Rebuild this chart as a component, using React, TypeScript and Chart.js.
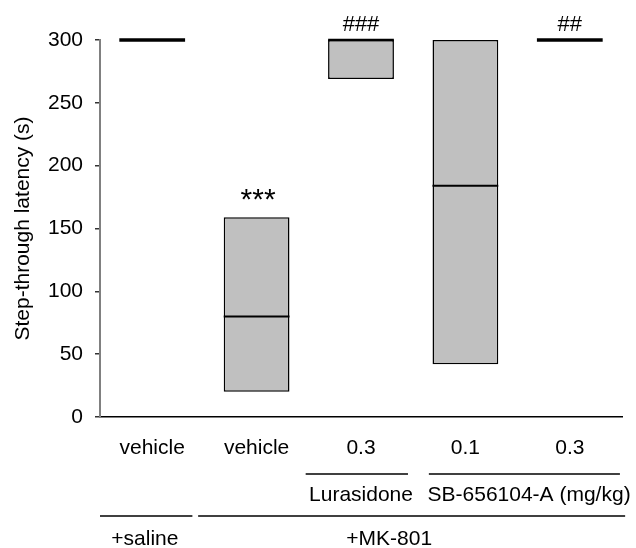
import React, { useEffect, useRef } from "react";
import { Chart, registerables } from "chart.js";

Chart.register(...registerables);

// ---- data ----
const categories = ["vehicle", "vehicle", "0.3", "0.1", "0.3"];
const boxLow = [300, 20, 269, 42, 300];
const boxHigh = [300, 159, 300, 300, 300];
const medians = [300, 80, 300, 184, 300];
const significance = ["", "***", "###", "", "##"];
const yTicks = [0, 50, 100, 150, 200, 250, 300];
const yTitle = "Step-through latency (s)";
const drugLabels = ["Lurasidone", "SB-656104-A (mg/kg)"];
const drugFrom = [2, 3];
const drugTo = [2, 4];
const treatmentLabels = ["+saline", "+MK-801"];
const treatmentFrom = [0, 1];
const treatmentTo = [0, 4];

// ---- layout (in category-width units / px) ----
const drugLayout = [
  { left: 0.53, right: 0.45, shift: 0 },
  { left: 0.35, right: 0.48, shift: 0.11 },
];
const treatmentLayout = [
  { left: 0.5, right: 0.385, shift: -0.07 },
  { left: 0.56, right: 0.53, shift: -0.23 },
];

const FONT = "'Liberation Sans', Arial, Helvetica, sans-serif";
const FS = 21;

const medianPlugin = {
  id: "medianLines",
  afterDatasetsDraw(chart: any) {
    const ctx = chart.ctx;
    const meta = chart.getDatasetMeta(0);
    const y = chart.scales.y;
    ctx.save();
    ctx.strokeStyle = "#000";
    meta.data.forEach((bar: any, i: number) => {
      const { x, width } = bar.getProps(["x", "width"], true);
      const py = y.getPixelForValue(medians[i]);
      ctx.lineWidth = boxLow[i] === boxHigh[i] ? 3.5 : medians[i] === boxHigh[i] ? 2.5 : 2;
      ctx.beginPath();
      ctx.moveTo(x - width / 2, py);
      ctx.lineTo(x + width / 2, py);
      ctx.stroke();
    });
    // significance marks
    ctx.fillStyle = "#000";
    ctx.textAlign = "center";
    ctx.textBaseline = "alphabetic";
    meta.data.forEach((bar: any, i: number) => {
      const s = significance[i];
      if (!s) return;
      const { x } = bar.getProps(["x"], true);
      const py = y.getPixelForValue(boxHigh[i]);
      const star = s.includes("*");
      ctx.font = `${star ? 30 : 22}px ${FONT}`;
      ctx.fillText(s, x + (star ? 1.5 : 0), py - (star ? 8 : 9.5));
    });
    ctx.restore();
  },
};

const groupPlugin = {
  id: "groupRows",
  afterDraw(chart: any) {
    const ctx = chart.ctx;
    const xs = chart.scales.x;
    const bottom = chart.chartArea.bottom;
    const cw = xs.getPixelForValue(1) - xs.getPixelForValue(0);
    const c = (i: number) => xs.getPixelForValue(i);
    ctx.save();
    ctx.strokeStyle = "#000";
    ctx.fillStyle = "#000";
    ctx.lineWidth = 1.5;
    ctx.font = `${FS}px ${FONT}`;
    ctx.textAlign = "center";
    ctx.textBaseline = "alphabetic";
    const drawRow = (
      labels: string[],
      from: number[],
      to: number[],
      layout: any[],
      lineY: number,
      textY: number
    ) => {
      labels.forEach((lab, k) => {
        const x1 = c(from[k]) - layout[k].left * cw;
        const x2 = c(to[k]) + layout[k].right * cw;
        ctx.beginPath();
        ctx.moveTo(x1, lineY);
        ctx.lineTo(x2, lineY);
        ctx.stroke();
        const tx = (c(from[k]) + c(to[k])) / 2 + layout[k].shift * cw;
        ctx.fillText(lab, tx, textY);
      });
    };
    drawRow(drugLabels, drugFrom, drugTo, drugLayout, bottom + 57, bottom + 84);
    drawRow(treatmentLabels, treatmentFrom, treatmentTo, treatmentLayout, bottom + 99, bottom + 128);
    ctx.restore();
  },
};

export default function App() {
  const ref = useRef<HTMLCanvasElement | null>(null);
  useEffect(() => {
    if (!ref.current) return;
    Chart.defaults.font.family = FONT;
    const chart = new Chart(ref.current, {
      type: "bar",
      data: {
        labels: categories,
        datasets: [
          {
            data: boxLow.map((l, i) => [l, boxHigh[i]]),
            backgroundColor: "#c0c0c0",
            borderColor: "#000",
            borderWidth: 1.5,
            borderSkipped: false,
            barPercentage: 0.63,
            categoryPercentage: 1,
          } as any,
        ],
      },
      options: {
        animation: false,
        responsive: true,
        maintainAspectRatio: false,
        layout: { padding: { top: 40, right: 14, left: 0, bottom: 0 } },
        plugins: { legend: { display: false }, tooltip: { enabled: false } },
        scales: {
          x: {
            offset: true,
            grid: { drawOnChartArea: false, drawTicks: false },
            border: { display: true, color: "#000", width: 1.5 },
            ticks: { color: "#000", font: { size: FS, family: FONT }, padding: 19, maxRotation: 0 },
            afterFit: (s: any) => {
              s.height = 131;
            },
          },
          y: {
            min: 0,
            max: 300,
            afterBuildTicks: (s: any) => {
              s.ticks = yTicks.map((v) => ({ value: v }));
            },
            ticks: { color: "#000", font: { size: FS, family: FONT }, padding: 12 },
            grid: { drawOnChartArea: false, drawTicks: true, tickLength: 5, color: "#333", lineWidth: 1.5 },
            border: { display: true, color: "#808080", width: 2 },
            title: {
              display: true,
              text: yTitle,
              color: "#000",
              font: { size: FS, family: FONT },
              padding: { top: 11, bottom: 0 },
            },
            afterFit: (s: any) => {
              s.width = 100;
            },
          },
        },
      },
      plugins: [medianPlugin, groupPlugin],
    });
    return () => chart.destroy();
  }, []);
  return (
    <div style={{ position: "absolute", left: 0, top: 0, width: 636, height: 548 }}>
      <canvas ref={ref} />
    </div>
  );
}
